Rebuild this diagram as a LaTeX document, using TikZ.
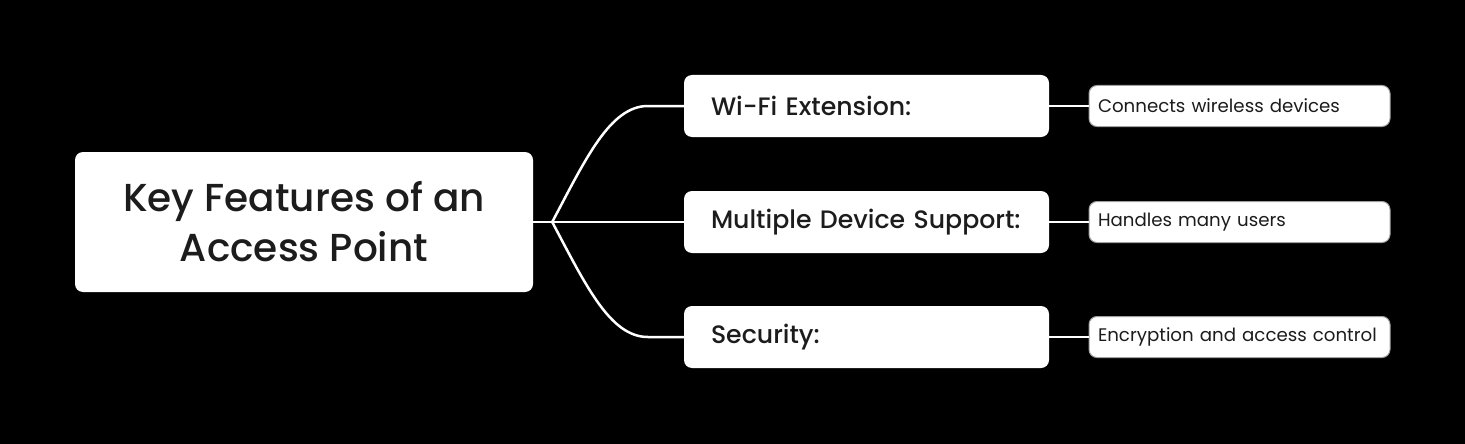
\documentclass[tikz,border=0pt]{standalone}
\usepackage{fontspec}
\setmainfont{Poppins}[UprightFont=* Medium]
\newfontfamily\leaffont{Poppins}
\usetikzlibrary{calc}
\definecolor{ink}{HTML}{1C1C1C}
\definecolor{leafline}{HTML}{A0A0A0}
\tikzset{
  rootbox/.style={draw=none, fill=white, rounded corners=8pt, minimum width=458pt, minimum height=140pt, align=center, text=ink, font=\fontsize{39}{50}\selectfont},
  midbox/.style={draw=none, fill=white, rounded corners=8pt, minimum height=62pt, text width=311pt, inner xsep=27pt, align=left, text=ink, font=\fontsize{25.2}{28}\selectfont},
  leafbox/.style={draw=leafline, line width=1pt, fill=white, rounded corners=8pt, minimum height=41pt, text width=283pt, inner xsep=9pt, align=left, text=ink, font=\leaffont\fontsize{18.2}{20}\selectfont},
  link/.style={draw=white, line width=2.5pt}
}
\begin{document}
\begin{tikzpicture}[x=1pt,y=-1pt]
\fill[black] (0,0) rectangle (1465,444);
\useasboundingbox (0,0) rectangle (1465,444);
\node[rootbox] (root) at (304,222) {Key Features of an\\Access Point};
\node[midbox] (m1) at (866.5,106) {Wi-Fi Extension:};
\node[midbox] (m2) at (866.5,222) {Multiple Device Support:};
\node[midbox] (m3) at (866.5,337) {Security:};
\node[leafbox] (l1) at (1239.5,106) {Connects wireless devices};
\node[leafbox] (l2) at (1239.5,222) {Handles many users};
\node[leafbox] (l3) at (1239.5,337) {Encryption and access control};
\coordinate (b) at ($(root.east)+(19,0)$);
\draw[link] (root.east) -- (b);
\draw[link] (b) .. controls +(33,-62) and ($(m1.west)+(-74,0)$) .. ($(m1.west)+(-36,0)$) -- (m1.west);
\draw[link] (b) -- (m2.west);
\draw[link] (b) .. controls +(33,62) and ($(m3.west)+(-74,0)$) .. ($(m3.west)+(-36,0)$) -- (m3.west);
\draw[link] (m1.east) -- (l1.west);
\draw[link] (m2.east) -- (l2.west);
\draw[link] (m3.east) -- (l3.west);
\end{tikzpicture}
\end{document}
